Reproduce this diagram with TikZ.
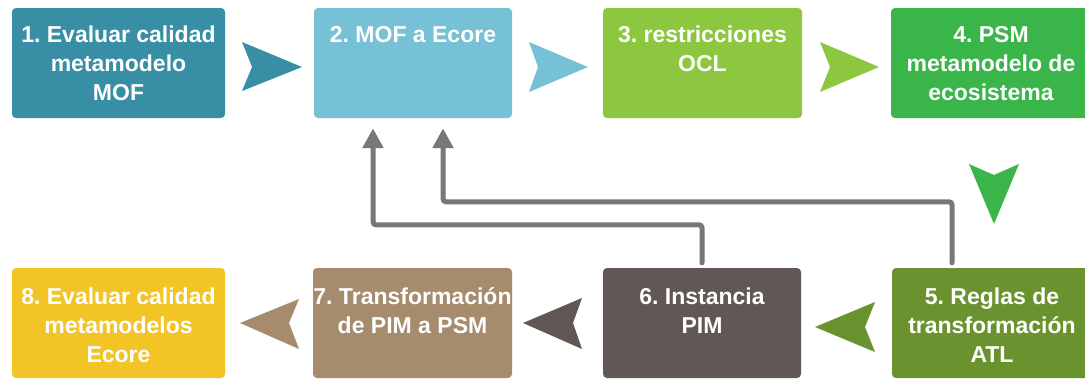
\documentclass[tikz,border=0pt]{standalone}
\usepackage{fontspec}
\setmainfont{Liberation Sans}
\usetikzlibrary{arrows.meta}
\frenchspacing
\definecolor{cA}{HTML}{378EA5}
\definecolor{cB}{HTML}{76C1D5}
\definecolor{cC}{HTML}{8DC63F}
\definecolor{cD}{HTML}{39B54A}
\definecolor{cE}{HTML}{6A9330}
\definecolor{cF}{HTML}{615856}
\definecolor{cG}{HTML}{A78B6D}
\definecolor{cH}{HTML}{F2C426}
\definecolor{lgray}{HTML}{777777}
\tikzset{
  box/.style={rounded corners=4pt, minimum height=110pt, inner sep=0pt, draw=none},
  lbl/.style={text=white, font=\fontsize{23}{29}\selectfont\bfseries, align=center, anchor=north, inner sep=0pt},
  conn/.style={draw=lgray, line width=5pt, rounded corners=3pt, line cap=round,
    -{Triangle[width=20pt,length=20pt]}},
}
\begin{document}
\begin{tikzpicture}[x=1pt,y=-1pt]
\useasboundingbox (0,0) rectangle (1085,381);
\fill[white] (0,0) rectangle (1085,381);
\clip (0,0) rectangle (1085,381);
% boxes
\node[box, fill=cA, minimum width=213pt] (b1) at (118.5,63) {};
\node[box, fill=cB, minimum width=198pt] (b2) at (413,63) {};
\node[box, fill=cC, minimum width=199pt] (b3) at (702.5,63) {};
\node[box, fill=cD, minimum width=200pt] (b4) at (991,63) {};
\node[box, fill=cE, minimum width=200pt] (b5) at (992,323) {};
\node[box, fill=cF, minimum width=198pt] (b6) at (702,323) {};
\node[box, fill=cG, minimum width=199pt] (b7) at (412.5,323) {};
\node[box, fill=cH, minimum width=213pt] (b8) at (118.5,323) {};
% labels
\node[lbl] (t1) at ([yshift=-18pt]b1.north) {1. Evaluar calidad\\metamodelo\\MOF};
\node[lbl] (t2) at ([yshift=-18pt]b2.north) {2. MOF a Ecore};
\node[lbl] (t3) at ([yshift=-18pt]b3.north) {3. restricciones\\OCL};
\node[lbl] (t4) at ([yshift=-18pt]b4.north) {4. PSM\\metamodelo de\\ecosistema};
\node[lbl] (t5) at ([yshift=-20pt]b5.north) {5. Reglas de\\transformación\\ATL};
\node[lbl] (t6) at ([yshift=-20pt]b6.north) {6. Instancia\\PIM};
\node[lbl] (t7) at ([yshift=-20pt]b7.north) {7. Transformación\\de PIM a PSM};
\node[lbl] (t8) at ([yshift=-20pt]b8.north) {8. Evaluar calidad\\metamodelos\\Ecore};
% chevrons
\fill[cA] (242,42) -- (302,67) -- (242,91) -- (252,67) -- cycle;
\fill[cB] (529,42) -- (588,67) -- (529,92) -- (538,67) -- cycle;
\fill[cC] (820,42) -- (879,67) -- (820,92) -- (830,67) -- cycle;
\fill[cD] (969,164) -- (994,175) -- (1019,164) -- (994,224) -- cycle;
\fill[cE] (875,302) -- (815,327) -- (875,352) -- (865,327) -- cycle;
\fill[cF] (582,298) -- (523,323) -- (582,349) -- (573,323) -- cycle;
\fill[cG] (299,299) -- (240,323) -- (299,349) -- (289,323) -- cycle;
% feedback connectors
\draw[conn] ([yshift=5pt]b6.north) -- ++(0,-38) -| ([xshift=-40pt,yshift=-10pt]b2.south);
\draw[conn] ([xshift=-40pt,yshift=5pt]b5.north) -- ++(0,-61) -| ([xshift=30pt,yshift=-10pt]b2.south);
\end{tikzpicture}
\end{document}
